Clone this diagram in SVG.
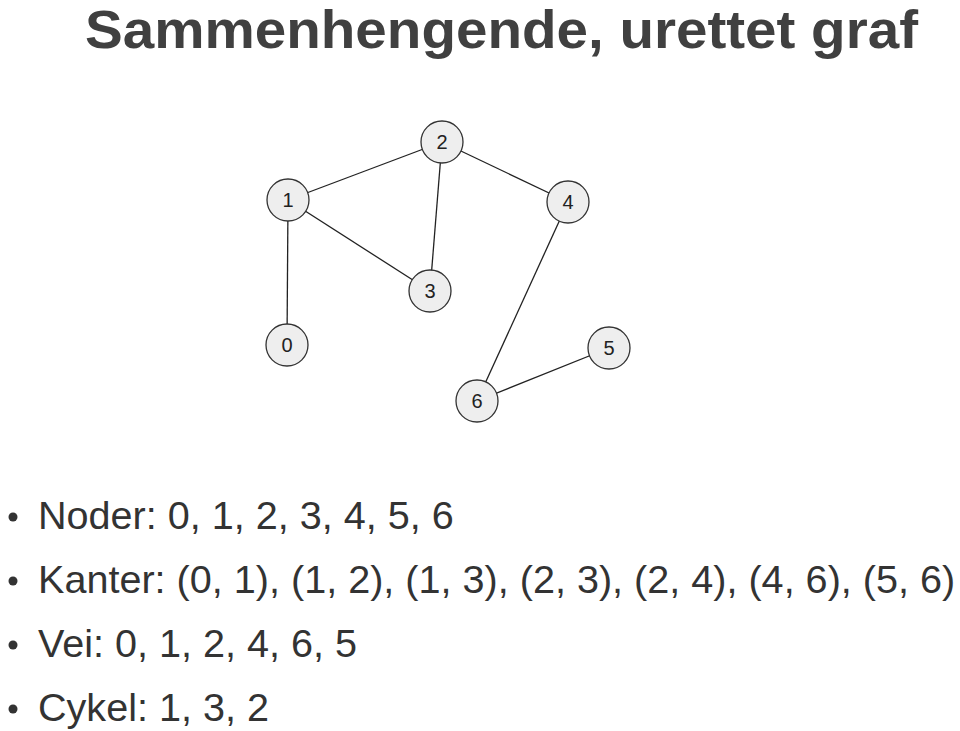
<svg xmlns="http://www.w3.org/2000/svg" width="960" height="731" viewBox="0 0 960 731">
<style>
.title{font-family:"Liberation Sans",Arial,sans-serif;font-weight:bold;font-size:53px;fill:#404040}
.bul{font-family:"Liberation Sans",Arial,sans-serif;font-size:39.6px;fill:#333333}
.node circle{fill:#eeeeee;stroke:#333333;stroke-width:1.3}
.node text{font-family:"Liberation Sans",Arial,sans-serif;font-size:20px;fill:#222222;text-anchor:middle}
#edges line{stroke:#222222;stroke-width:1.3}
.dot{fill:#333333}
</style>
<rect width="960" height="731" fill="#ffffff"/>
<text class="title" x="85" y="48" textLength="833" lengthAdjust="spacingAndGlyphs">Sammenhengende, urettet graf</text>
<g id="edges">
<line x1="287" y1="345" x2="288" y2="200"/>
<line x1="288" y1="200" x2="442" y2="142"/>
<line x1="288" y1="200" x2="430" y2="291"/>
<line x1="442" y1="142" x2="430" y2="291"/>
<line x1="442" y1="142" x2="568" y2="202"/>
<line x1="568" y1="202" x2="477" y2="401"/>
<line x1="609" y1="348" x2="477" y2="401"/>
</g>
<g id="n0" class="node"><circle cx="287" cy="345" r="21"/><text x="287" y="352">0</text></g>
<g id="n1" class="node"><circle cx="288" cy="200" r="21"/><text x="288" y="207">1</text></g>
<g id="n2" class="node"><circle cx="442" cy="142" r="21"/><text x="442" y="149">2</text></g>
<g id="n3" class="node"><circle cx="430" cy="291" r="21"/><text x="430" y="298">3</text></g>
<g id="n4" class="node"><circle cx="568" cy="202" r="21"/><text x="568" y="209">4</text></g>
<g id="n5" class="node"><circle cx="609" cy="348" r="21"/><text x="609" y="355">5</text></g>
<g id="n6" class="node"><circle cx="477" cy="401" r="21"/><text x="477" y="408">6</text></g>
<g id="bullets">
<circle class="dot" cx="13" cy="517" r="4.5"/>
<text class="bul" x="38" y="529">Noder: 0, 1, 2, 3, 4, 5, 6</text>
<circle class="dot" cx="13" cy="581" r="4.5"/>
<text class="bul" x="38" y="593">Kanter: (0, 1), (1, 2), (1, 3), (2, 3), (2, 4), (4, 6), (5, 6)</text>
<circle class="dot" cx="13" cy="645" r="4.5"/>
<text class="bul" x="38" y="657">Vei: 0, 1, 2, 4, 6, 5</text>
<circle class="dot" cx="13" cy="709" r="4.5"/>
<text class="bul" x="38" y="721">Cykel: 1, 3, 2</text>
</g>
</svg>
